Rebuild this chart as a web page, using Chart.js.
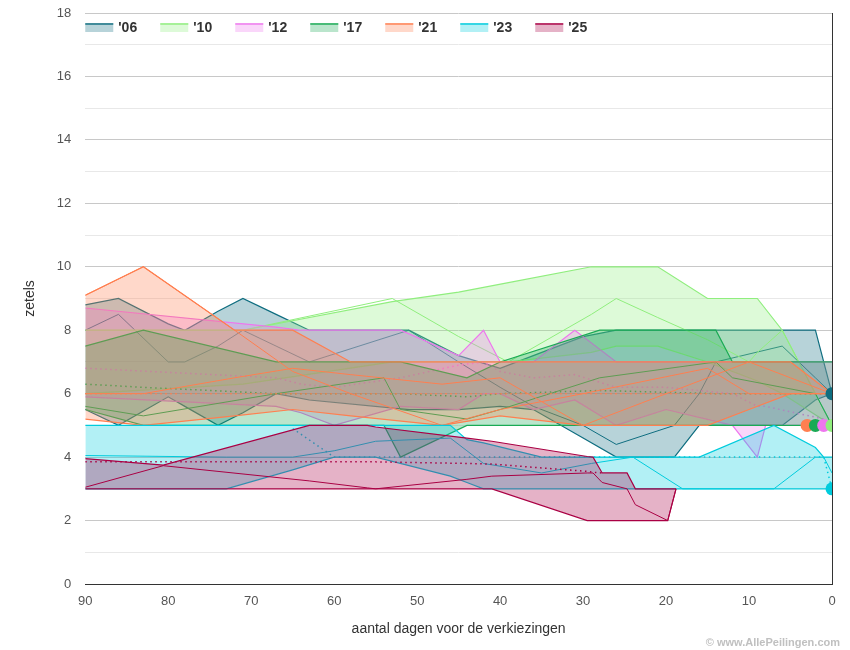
<!DOCTYPE html>
<html>
<head>
<meta charset="utf-8">
<script src="https://cdn.jsdelivr.net/npm/chart.js@4.4.1/dist/chart.umd.min.js"></script>
<style>
  html, body { margin: 0; padding: 0; background: #fff; }
  #wrap { width: 850px; height: 650px; }
</style>
</head>
<body>
<div id="wrap"><canvas id="zetelChart" width="850" height="650"></canvas></div>
<script>
// verkiezingsjaren en kleuren
const years = ["'06", "'10", "'12", "'17", "'21", "'23", "'25"];
const colors = ['#0f6e80', '#90ee7e', '#ee77ee', '#1aaa55', '#ff7f50', '#00ccdd', '#aa0044'];

// '06
const days06 = [90, 86, 80, 78, 74, 71, 67, 63, 51, 45, 40, 36, 30, 26, 19, 16, 14, 6, 2, 0];
const max06 = [8.8, 9, 8.2, 8, 8.6, 9, 8.5, 8, 8, 7.2, 6.8, 7.2, 7.8, 8, 8, 8, 8, 8, 8, 6];
const min06 = [5.5, 5, 5.9, 5.6, 5, 5.4, 6, 5.8, 5.5, 5.5, 5.6, 5.5, 4.6, 4, 4, 5, 5, 5, 5.8, 6];
const poll06 = [8, 8.5, 7, 7, 7.5, 8, 7.5, 7, 8, 7, 6.2, 5.6, 5, 4.4, 5, 6, 7, 7.5, 6.5, 6];

// '10
const days10 = [90, 71, 53, 45, 39, 29, 26, 21, 15, 10, 9, 6, 3, 0];
const max10 = [8, 8, 8.9, 9.2, 9.5, 10, 10, 10, 9, 9, 9, 8, 6.5, 5];
const min10 = [6, 6.3, 7, 7, 7, 7.3, 7.5, 7.5, 7, 6.5, 6.4, 6, 5.5, 5];
const poll10 = [8, 8, 9, 7.8, 7, 8.5, 9, 8.4, 7.7, 7, 7.3, 8, 6.5, 5];

// '12
const days12 = [90, 67, 64, 60, 52, 45, 42, 40, 36, 31, 26, 20, 12, 9, 8, 1, 0];
const max12 = [8.7, 8.1, 8, 8, 8, 7.2, 8, 7, 7, 8, 7, 7, 7, 7, 7, 7, 7];
const min12 = [5.9, 5.6, 5.4, 5, 5.6, 5.5, 6, 6, 5.5, 5.8, 5, 5.5, 5, 4, 5, 5, 5];
const avg12 = [6.8, 6.5, 6.3, 6.2, 6.5, 6.9, 7, 6.7, 6.5, 6.6, 6.2, 6.2, 6, 5.6, 5.6, 5.2, 5];

// '17
const days17 = [90, 83, 67, 54, 52, 44, 40, 28, 14, 12, 2, 0];
const max17 = [7.5, 8, 7, 7, 7, 6.5, 7, 8, 8, 7, 7, 7];
const min17 = [5.5, 5, 5, 5, 4, 5, 5, 5, 5, 5, 5, 5];
const avg17 = [6.3, 6.2, 6, 6, 6, 5.9, 6, 6.1, 6, 6, 6, 6];
const poll17 = [5.6, 5.3, 6, 6.5, 5.5, 5.2, 5.5, 6.5, 7, 6.5, 6, 5];

// '21
const days21 = [90, 83, 72, 65, 58, 47, 40, 30, 15, 10, 5, 0];
const max21 = [9.1, 10, 8, 8, 7, 7, 7, 7, 7, 7, 7, 6];
const min21 = [5.2, 5, 5.3, 5.5, 5.3, 5, 5.3, 5, 5, 5.5, 6, 6];
const avg21 = [6, 6, 6, 6, 6, 6, 6, 6, 6, 6, 6, 6];
const poll21 = [6, 6, 6.5, 6.8, 6.6, 6.3, 6.5, 5, 6.5, 7, 6.5, 6];
const poll21b = [9.1, 10, 8, 6.7, 6, 5, 5.5, 6, 6.8, 6, 6, 6];

// '23
const days23 = [90, 73, 65, 60, 55, 46, 44, 42, 35, 29, 24, 18, 16, 7, 2, 1, 0];
const max23 = [5, 5, 5, 5, 5, 5, 4.55, 4.45, 4, 4, 4, 4, 4, 5, 4.3, 4, 4];
const min23 = [3, 3, 3.6, 4, 4, 3.4, 3.2, 3, 3, 3, 3, 3, 3, 3, 3, 3, 3];
const avg23 = [null, null, 4.9, 4, 4, 4, 4, 4, 4, 4, 4, 4, 4, 4, 4, 4, 3];
const poll23 = [4.05, 4, 4, 4.2, 4.5, 4.6, 4.2, 3.8, 3.5, 3.8, 4, 3, 3, 3, 4, 4, 3.5];

// '25
const days25 = [90, 80.6, 63, 56, 55, 44, 41, 29.5, 28.8, 27.7, 24.7, 23.7, 19.8, 18.8];
const max25 = [3.95, 3.75, 5, 5, 4.95, 4.6, 4.5, 4.02, 4, 3.5, 3.5, 3, 3, 3];
const min25 = [3, 3, 3, 3, 3, 3, 3, 2, 2, 2, 2, 2, 2, 3];
const avg25 = [3.85, 3.85, 3.85, 3.85, 3.85, 3.8, 3.78, 3.55, 3.52, 3.5, null, null, null, null];
const poll25 = [3.05, 3.73, 3.25, 3.03, 3, 3.3, 3.4, 3.5, 3.5, 3.2, 3, 2.5, 2, 3];

// uitslagen (dag, zetels) per jaar, '25 heeft nog geen uitslag
const resYear = [0, 1, 2, 3, 4, 5];
const resDays = [0, 0, 1, 2, 3, 0];
const resSeats = [6, 5, 5, 5, 5, 3];

const series = [
  { days: days06, max: max06, min: min06, extra: [poll06], avg: null },
  { days: days10, max: max10, min: min10, extra: [poll10], avg: null },
  { days: days12, max: max12, min: min12, extra: [], avg: avg12 },
  { days: days17, max: max17, min: min17, extra: [poll17], avg: avg17 },
  { days: days21, max: max21, min: min21, extra: [poll21, poll21b], avg: avg21 },
  { days: days23, max: max23, min: min23, extra: [poll23], avg: avg23 },
  { days: days25, max: max25, min: min25, extra: [poll25], avg: avg25 }
];

function alpha(hex, a) {
  const n = parseInt(hex.slice(1), 16);
  return `rgba(${(n >> 16) & 255}, ${(n >> 8) & 255}, ${n & 255}, ${a})`;
}
const pts = (xs, ys) => xs.map((x, i) => ({ x: x, y: ys[i] }));

const datasets = [];
series.forEach((s, i) => {
  const col = colors[i];
  const order = 100 - i * 10;
  datasets.push({
    label: years[i] + ' min', data: pts(s.days, s.min),
    borderColor: col, borderWidth: 1.2, pointRadius: 0, fill: false, order: order
  });
  datasets.push({
    label: years[i], data: pts(s.days, s.max),
    borderColor: col, borderWidth: 1.2, pointRadius: 0,
    backgroundColor: alpha(col, 0.3), fill: '-1', order: order
  });
  s.extra.forEach(p => datasets.push({
    label: years[i] + ' peiling', data: pts(s.days, p),
    borderColor: col, borderWidth: 1, pointRadius: 0, fill: false, order: order - 1
  }));
  if (s.avg) {
    datasets.push({
      label: years[i] + ' gem', data: pts(s.days, s.avg),
      borderColor: col, borderWidth: 1.5, borderDash: [1.5, 3.5], pointRadius: 0,
      fill: false, spanGaps: false, order: order - 2
    });
  }
});
resYear.forEach((yi, k) => {
  datasets.push({
    label: years[yi] + ' uitslag', data: [{ x: resDays[k], y: resSeats[k] }],
    showLine: false, pointRadius: 6.5, pointBackgroundColor: colors[yi],
    pointBorderWidth: 0, order: 0
  });
});

// legenda en watermerk zelf tekenen
const extras = {
  id: 'extras',
  afterDraw(chart) {
    const ctx = chart.ctx;
    const ca = chart.chartArea;
    ctx.save();
    years.forEach((y, i) => {
      const x = ca.left + i * 75;
      const top = ca.top + 10;
      ctx.fillStyle = alpha(colors[i], 0.3);
      ctx.fillRect(x, top, 28, 9);
      ctx.fillStyle = alpha(colors[i], 0.7);
      ctx.fillRect(x, top, 28, 2);
      ctx.fillStyle = '#333';
      ctx.font = 'bold 14px "Liberation Sans", Arial, sans-serif';
      ctx.textBaseline = 'middle';
      ctx.fillText(y, x + 33, top + 5);
    });
    ctx.font = 'bold 11px "Liberation Sans", Arial, sans-serif';
    ctx.fillStyle = '#c0c0c0';
    ctx.textAlign = 'right';
    ctx.textBaseline = 'alphabetic';
    ctx.fillText('\u00a9 www.AllePeilingen.com', chart.width - 10, chart.height - 4);
    ctx.restore();
  }
};

const ctx = document.getElementById('zetelChart').getContext('2d');
const myChart = new Chart(ctx, {
  type: 'line',
  data: { datasets: datasets },
  options: {
    responsive: false,
    animation: false,
    layout: { padding: { left: 18, right: 18, top: 0, bottom: 8 } },
    elements: { line: { tension: 0 } },
    scales: {
      x: {
        type: 'linear', min: 0, max: 90, reverse: true,
        ticks: { stepSize: 10, color: '#555', font: { size: 13, family: '"Liberation Sans", Arial' }, padding: 2 },
        grid: { display: false },
        border: { display: true, color: '#333', width: 1 },
        title: { display: true, text: 'aantal dagen voor de verkiezingen', color: '#333', font: { size: 14, family: '"Liberation Sans", Arial' }, padding: { top: 9.6 } }
      },
      y: {
        min: 0, max: 18,
        ticks: {
          stepSize: 1, color: '#555', padding: 14,
          font: { size: 13, family: '"Liberation Sans", Arial' },
          callback: v => (v % 2 === 0 ? v : '')
        },
        afterFit: s => { s.paddingTop = 13; },
        grid: {
          drawTicks: false,
          color: c => (c.tick && c.tick.value % 2 === 0 ? '#c8c8c8' : '#e8e8e8')
        },
        border: { display: false },
        title: { display: true, text: 'zetels', color: '#333', font: { size: 14, family: '"Liberation Sans", Arial' } }
      },
      yr: {
        position: 'right', min: 0, max: 18,
        ticks: { display: false },
        afterFit: s => { s.paddingTop = 0; },
        grid: { display: false, drawTicks: false },
        border: { display: true, color: '#333', width: 1 }
      }
    },
    plugins: {
      legend: { display: false },
      tooltip: { enabled: false }
    }
  },
  plugins: [extras]
});
</script>
</body>
</html>
